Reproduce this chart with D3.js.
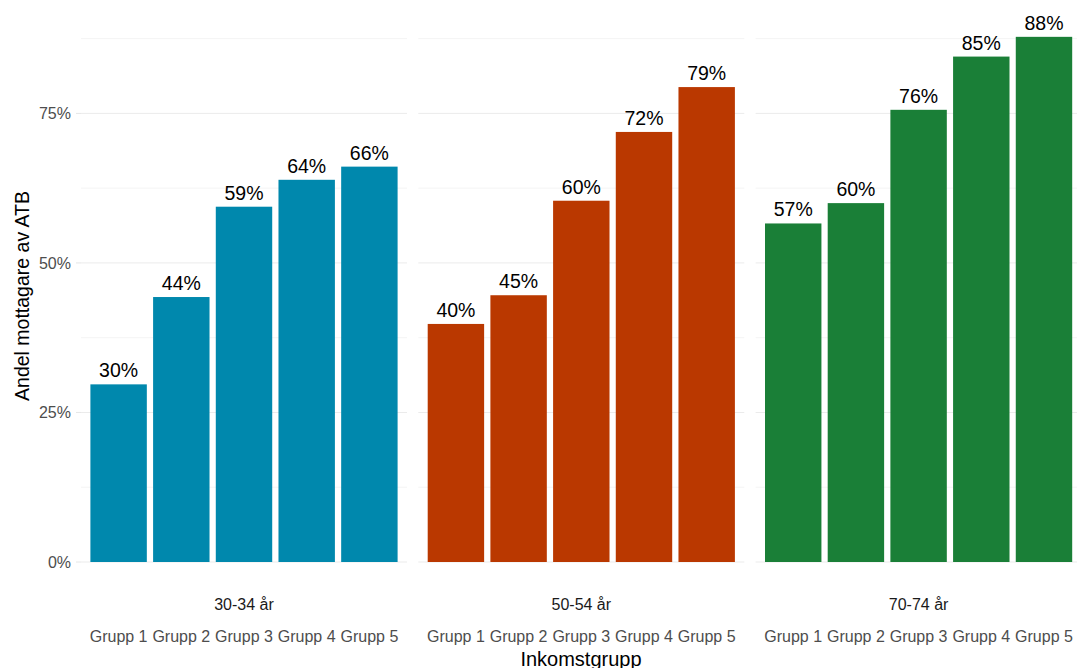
<!DOCTYPE html>
<html>
<head>
<meta charset="utf-8">
<script src="https://cdn.jsdelivr.net/npm/d3@7"></script>
<style>
  body { margin: 0; background: #fff; }
  text { font-family: "Liberation Sans", Arial, sans-serif; }
</style>
</head>
<body>
<script>
// data
var ageGroups = ["30-34 år", "50-54 år", "70-74 år"];
var incomeGroups = ["Grupp 1", "Grupp 2", "Grupp 3", "Grupp 4", "Grupp 5"];
var share3034 = [0.297, 0.443, 0.594, 0.639, 0.661];
var share5054 = [0.398, 0.446, 0.604, 0.719, 0.794];
var share7074 = [0.566, 0.600, 0.756, 0.845, 0.878];
var facetColors = ["#0088ad", "#ba3800", "#1a7f37"];
var yTicks = [0, 0.25, 0.5, 0.75];
var yMinor = [0.125, 0.375, 0.625, 0.875];

var shares = [share3034, share5054, share7074];

var w = 1077, h = 668;
var panelW = 326, panelGap = 11.3, left = 81;

var svg = d3.select("body").append("svg")
    .attr("width", w)
    .attr("height", h);

var y = d3.scaleLinear()
    .domain([0, 0.75])
    .range([562, 113.4]);

var pct = d3.format(".0%");

// y axis tick labels
svg.selectAll(".ytick")
    .data(yTicks)
    .enter().append("text")
    .attr("class", "ytick")
    .attr("x", 71)
    .attr("y", function(d){ return y(d); })
    .attr("dy", "0.35em")
    .attr("text-anchor", "end")
    .style("font-size", "16px")
    .style("fill", "#4d4d4d")
    .text(function(d){ return pct(d); });

svg.selectAll(".ytickmark")
    .data(yTicks)
    .enter().append("line")
    .attr("x1", 76).attr("x2", 81)
    .attr("y1", function(d){ return y(d); })
    .attr("y2", function(d){ return y(d); })
    .style("stroke", "#e6e6e6");

ageGroups.forEach(function(age, f){
    var x0 = left + f * (panelW + panelGap);
    var x = d3.scaleBand()
        .domain(incomeGroups)
        .range([x0, x0 + panelW])
        .paddingInner(0.1)
        .paddingOuter(0.15);

    var g = svg.append("g");

    g.selectAll(".minor")
        .data(yMinor)
        .enter().append("line")
        .attr("x1", x0).attr("x2", x0 + panelW)
        .attr("y1", function(d){ return y(d); })
        .attr("y2", function(d){ return y(d); })
        .style("stroke", "#f4f4f4");

    g.selectAll(".major")
        .data(yTicks)
        .enter().append("line")
        .attr("x1", x0).attr("x2", x0 + panelW)
        .attr("y1", function(d){ return y(d); })
        .attr("y2", function(d){ return y(d); })
        .style("stroke", "#ebebeb");

    var rows = incomeGroups.map(function(k, i){ return {group: k, value: shares[f][i]}; });

    g.selectAll(".bar")
        .data(rows)
        .enter().append("rect")
        .attr("x", function(d){ return x(d.group); })
        .attr("width", x.bandwidth())
        .attr("y", function(d){ return y(d.value); })
        .attr("height", function(d){ return y(0) - y(d.value); })
        .style("fill", facetColors[f]);

    g.selectAll(".label")
        .data(rows)
        .enter().append("text")
        .attr("x", function(d){ return x(d.group) + x.bandwidth() / 2; })
        .attr("y", function(d){ return y(d.value) - 7; })
        .attr("text-anchor", "middle")
        .style("font-size", "19.5px")
        .style("fill", "#000")
        .text(function(d){ return pct(d.value); });

    // strip label below the panel
    g.append("text")
        .attr("x", x0 + panelW / 2)
        .attr("y", 604)
        .attr("dy", "0.35em")
        .attr("text-anchor", "middle")
        .style("font-size", "16px")
        .style("fill", "#1a1a1a")
        .text(age);

    g.selectAll(".xtick")
        .data(incomeGroups)
        .enter().append("text")
        .attr("x", function(d){ return x(d) + x.bandwidth() / 2; })
        .attr("y", 636)
        .attr("dy", "0.35em")
        .attr("text-anchor", "middle")
        .style("font-size", "16px")
        .style("fill", "#4d4d4d")
        .text(function(d){ return d; });
});

// axis titles
svg.append("text")
    .attr("x", 581)
    .attr("y", 666)
    .attr("text-anchor", "middle")
    .style("font-size", "20px")
    .style("fill", "#000")
    .text("Inkomstgrupp");

svg.append("text")
    .attr("transform", "translate(29,296) rotate(-90)")
    .attr("text-anchor", "middle")
    .style("font-size", "19.5px")
    .style("fill", "#000")
    .text("Andel mottagare av ATB");
</script>
</body>
</html>
